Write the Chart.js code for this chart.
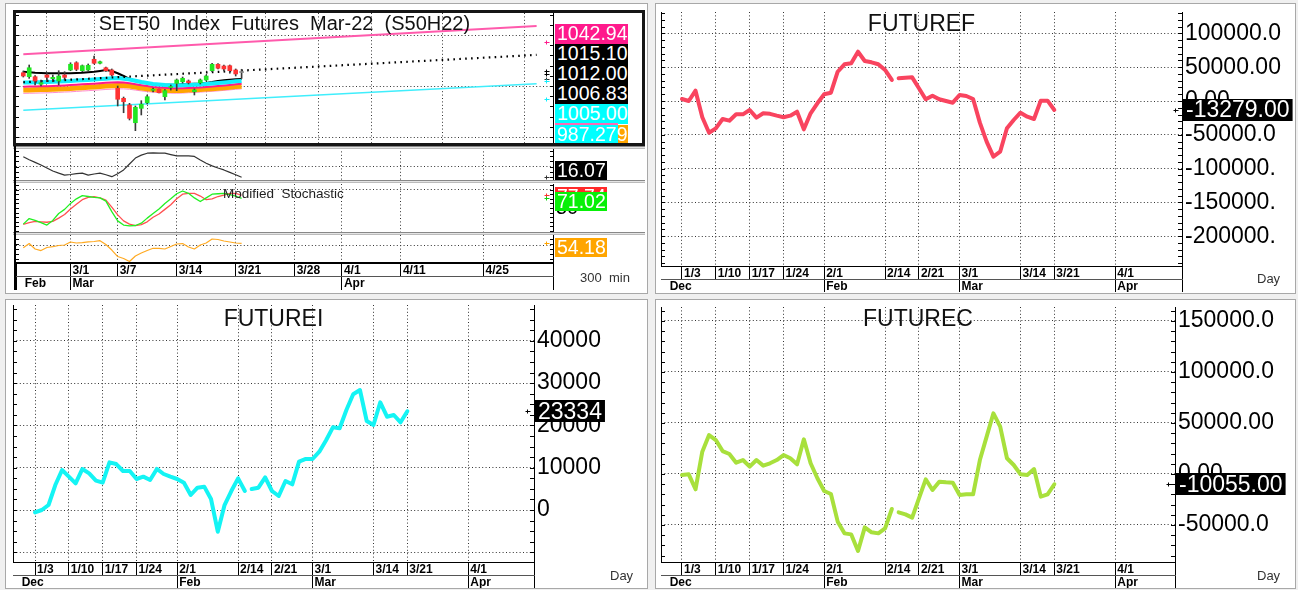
<!DOCTYPE html>
<html>
<head>
<meta charset="utf-8">
<title>SET50 Index Futures Mar-22</title>
<script src="https://cdn.jsdelivr.net/npm/chart.js@4.4.1/dist/chart.umd.min.js"></script>
<style>
html,body{margin:0;padding:0;background:#f0f0f0;}
#root{position:relative;width:1298px;height:590px;overflow:hidden;background:#f0f0f0;font-family:'Liberation Sans',Arial,sans-serif;}
.panel{position:absolute;background:#fff;border:1px solid #a8a8a8;box-sizing:border-box;}
canvas{position:absolute;display:block;}
.t{position:absolute;white-space:pre;line-height:1;color:#111;}
.lab{position:absolute;left:555px;color:#fff;font-size:19.5px;line-height:19px;padding-left:2px;box-sizing:border-box;white-space:pre;overflow:hidden;}
.sep{position:absolute;left:13px;width:632px;height:3px;box-sizing:border-box;border-top:1px solid #888;border-bottom:1px solid #bbb;background:#e4e4e4;}
</style>
</head>
<body>
<div id="root">
  <div class="panel" style="left:5px;top:3px;width:643px;height:291px"></div>
  <div class="panel" style="left:655px;top:3px;width:641px;height:291px"></div>
  <div class="panel" style="left:5px;top:299px;width:643px;height:290px"></div>
  <div class="panel" style="left:655px;top:299px;width:641px;height:290px"></div>

  <div style="position:absolute;left:13px;top:10px;width:626px;height:130px;border:3px solid #151515;"></div>
  <canvas id="cMain" width="626" height="130" style="left:16px;top:13px"></canvas>
  <canvas id="cS1" width="626" height="32" style="left:16px;top:148px"></canvas>
  <canvas id="cS2" width="626" height="48" style="left:16px;top:184px"></canvas>
  <canvas id="cS3" width="626" height="55" style="left:16px;top:235px"></canvas>
  <div class="sep" style="top:146px"></div>
  <div class="sep" style="top:180px"></div>
  <div class="sep" style="top:232px"></div>
  <div style="position:absolute;left:14px;top:146px;width:2px;height:144px;background:#000"></div>

  <canvas id="cF" width="639" height="288" style="left:656px;top:4px"></canvas>
  <canvas id="cI" width="641" height="288" style="left:6px;top:300px"></canvas>
  <canvas id="cC" width="639" height="288" style="left:656px;top:300px"></canvas>

  <div class="t" style="left:16px;top:13px;width:537px;text-align:center;font-size:20px">SET50  Index  Futures  Mar-22  (S50H22)</div>
  <div class="t" style="left:661px;top:12px;width:521px;text-align:center;font-size:23px">FUTUREF</div>
  <div class="t" style="left:13px;top:307px;width:521px;text-align:center;font-size:23px">FUTUREI</div>
  <div class="t" style="left:661px;top:307px;width:514px;text-align:center;font-size:23px">FUTUREC</div>
  <div class="t" style="left:223px;top:187px;font-size:13.5px;color:#222">Modified  Stochastic</div>
  <div class="t" style="left:580px;top:271px;font-size:13px;color:#333">300  min</div>
  <div class="t" style="left:1257px;top:272px;font-size:13px;color:#333">Day</div>
  <div class="t" style="left:610px;top:569px;font-size:13px;color:#333">Day</div>
  <div class="t" style="left:1257px;top:569px;font-size:13px;color:#333">Day</div>
  <div id="labels"></div>
</div>
<script>
const FF = "'Liberation Sans', Arial, sans-serif";
Chart.defaults.font.family = FF;
Chart.defaults.color = '#000';

/* ================= FUTURE panels (daily) ================= */
const dayTickIdx    = [0, 5, 10, 15, 21, 30, 35, 41, 50, 55, 64];
const dayTickLabels = ['1/3','1/10','1/17','1/24','2/1','2/14','2/21','3/1','3/14','3/21','4/1'];
const monthTickIdx  = [21, 41, 64];
const monthLabels   = ['Feb','Mar','Apr'];
const firstMonthLabel = 'Dec';
const gapAfterIndex = 31;

const futureF = [3000,0,15200,-24100,-46900,-40400,-26600,-29100,-19700,-19700,
  -13300,-24600,-18200,-19000,-21700,-24100,-21700,-15800,-41900,-18200,
  -3400,9900,12300,43300,54300,55800,72900,59200,57200,54300,
  45900,31100,33500,34500,35000,18800,2500,7900,2500,0,
  -2500,8900,7400,3000,-32000,-60000,-82300,-75000,-40400,-28100,
  -17300,-23200,-26600,500,500,-13279];
const futureI = [-550,0,1180,5900,9450,7880,6300,9700,8670,6930,
  6460,11270,10870,9220,9220,7330,7880,7090,9700,8510,
  7880,7330,6460,3550,5280,5520,2600,-5130,1180,4490,
  7490,4490,4960,5280,7720,4490,3310,6860,6070,11430,
  12060,12060,13790,16500,19540,19310,23640,27350,28370,21040,
  20090,25460,22060,22460,20730,23334];
const futureC = [-980,-300,-15000,21900,38200,33300,22500,19600,11100,13700,
  7200,13700,8200,10500,13700,18600,15400,9500,34000,10500,
  -4200,-16700,-19600,-46700,-58200,-59200,-75500,-52300,-57200,-58200,
  -53300,-34300,-37600,-39600,-42800,-23900,-5200,-15700,-7500,-8200,
  -8500,-20600,-19900,-19900,13700,36600,59500,46400,15400,8800,
  -300,-1000,4900,-22200,-19900,-10055];

const yTicksF = [-200000,-150000,-100000,-50000,0,50000,100000];
const yTicksI = [-10000,0,10000,20000,30000,40000];
const yTicksC = [-50000,0,50000,100000,150000];

/* ================= SET50 panel (300 min bars) ================= */
const barDateTickIdx = [8, 16, 26, 36, 46, 54, 64, 78];
const barDateLabels  = ['3/1','3/7','3/14','3/21','3/28','4/1','4/11','4/25'];
const barMonthTickIdx = [8, 54];
const barMonthLabels  = ['Mar','Apr'];
const barFirstMonth   = 'Feb';

const candleOpen  = [1013.0,1009.1,1009.1,1001.7,1010.8,1007.2,1004.9,1010.8,1015.7,1022.8,1015.0,1015.7,1026.2,1022.3,1017.9,1015.7,997.7,987.9,981.4,964.0,978.1,983.6,995.8,996.8,989.5,998.5,1002.6,1004.2,1004.9,994.4,1003.2,1005.9,1015.0,1021.3,1019.6,1019.9,1015.7,1013.2];
const candleHigh  = [1014.7,1020.6,1010.3,1005.9,1012.5,1010.8,1015.0,1014.0,1022.8,1023.8,1020.6,1021.6,1029.4,1024.5,1018.6,1016.7,1000.0,989.2,983.0,980.4,985.6,991.2,998.0,997.1,996.6,1001.0,1006.9,1008.8,1005.9,997.1,1006.9,1010.8,1022.3,1022.1,1020.6,1020.6,1016.7,1016.4];
const candleLow   = [1008.8,1007.5,1001.0,1000.0,1004.2,1004.2,1001.0,1005.9,1015.0,1015.0,1014.0,1014.7,1021.6,1021.6,1014.2,1009.8,980.4,973.8,966.7,956.2,971.6,982.4,994.1,993.1,986.3,996.0,995.4,1002.9,1002.0,991.2,1002.0,1004.9,1014.0,1016.7,1014.7,1012.5,1009.8,1007.5];
const candleClose = [1009.8,1017.9,1004.9,1003.2,1008.5,1008.5,1009.8,1008.5,1021.3,1016.4,1019.9,1020.3,1022.3,1023.8,1015.0,1010.8,987.0,984.6,968.3,979.1,982.1,989.5,996.1,993.4,995.4,999.2,1005.9,1007.5,1003.2,996.1,1005.9,1009.8,1021.3,1017.4,1016.7,1015.0,1011.8,1013.2];

const maBlack   = [1014.0,1013.5,1013.0,1012.8,1012.5,1012.5,1012.5,1012.5,1012.5,1012.7,1013.0,1013.5,1014.0,1014.8,1015.7,1014.7,1012.5,1009.8,1006.9,1004.9,1003.5,1002.6,1002.0,1001.6,1001.3,1001.2,1001.3,1001.6,1001.9,1002.2,1002.5,1003.0,1003.9,1005.0,1005.6,1006.2,1006.6,1006.83];
const maCyan    = [1003.4,1003.5,1003.6,1003.8,1003.9,1004.1,1004.4,1004.7,1004.9,1005.3,1005.7,1006.0,1006.4,1006.8,1007.2,1007.5,1007.8,1007.2,1006.4,1005.1,1003.9,1002.9,1002.0,1001.5,1001.0,1000.7,1000.5,1000.7,1001.0,1001.2,1001.5,1002.0,1002.5,1002.9,1003.4,1004.0,1004.6,1005.0];
const maMagenta = [999.3,999.4,999.5,999.7,999.8,1000.0,1000.3,1000.6,1000.9,1001.2,1001.6,1001.9,1002.3,1002.7,1003.1,1003.4,1003.7,1003.4,1002.8,1001.8,1000.8,999.9,999.1,998.6,998.2,997.9,997.7,997.9,998.1,998.3,998.6,999.0,999.5,999.9,1000.4,1001.0,1001.7,1002.1];
const maOrange  = [996.1,996.2,996.3,996.5,996.6,996.8,997.1,997.4,997.6,998.0,998.4,998.7,999.1,999.5,999.9,1000.2,1000.5,1000.4,999.9,999.0,998.1,997.3,996.6,996.2,995.8,995.6,995.5,995.7,996.0,996.3,996.6,997.0,997.4,997.8,998.3,998.8,999.4,999.8];
const maPink    = [992.8,992.9,993.0,993.2,993.3,993.5,993.8,994.1,994.3,994.7,995.1,995.4,995.8,996.2,996.6,996.9,997.2,997.2,996.8,996.0,995.2,994.5,993.9,993.5,993.2,993.0,992.9,993.1,993.4,993.7,994.0,994.4,994.8,995.2,995.7,996.2,996.8,997.2];

const channelBars  = [0, 87];
const channelUpper = [1031.1, 1058.8];
const channelMid   = [1003.7, 1030.5];
const channelLower = [976.3, 1002.2];

const sub1Line  = [23.7,22.6,21.6,20.6,19.5,18.4,17.6,16.9,17.1,17.4,17.6,16.9,17.3,17.6,17.0,16.3,17.4,18.8,21.0,23.2,24.3,25.0,25.1,25.0,25.0,24.5,24.0,24.0,24.0,23.8,22.5,21.3,20.3,19.5,18.8,17.9,17.0,16.07];
const stochFast = [15,27,23,18,13,23,38,47,60,70,77,75,73,72,65,42,22,13,11,12,17,28,38,48,60,70,81,87,82,72,64,72,80,81,82,79,76,71.02];
const stochSlow = [14.6,18,21,20,19,21,28,36,48,58,68,73,74.6,72,67,52,35,22,15,11.5,14,20,30,37,47,57,70,80,82,82,76,68,70,75,78,82,82,77.74];
const sub3Line  = [47.4,53.8,45.4,43,47.7,48.9,50.8,51.5,56.2,54.6,55.1,56.2,56.9,58.2,52.3,43.8,33.8,30.8,26.2,34.6,39.2,43.1,46.5,46.2,45.4,49.2,53.1,53.8,48.5,45.4,51.5,54.6,60.8,60,57.7,56.2,54.6,54.18];

const mainLabelValues = ['1042.94','1015.10','1012.00','1006.83','1005.00','987.279'];

/* ================= helpers ================= */
const GRID = '#333';
const DOT = [1, 2.4];
const CLEAR = 'rgba(0,0,0,0)';
const noPad = s => { s.paddingTop = 0; s.paddingBottom = 0; s.paddingLeft = 0; s.paddingRight = 0; };

function makeDecor(o) {
  return {
    id: 'decor',
    afterDraw(chart) {
      const ctx = chart.ctx, a = chart.chartArea, y = chart.scales.y;
      ctx.save();
      if (o.leftBorder) {
        ctx.strokeStyle = '#000'; ctx.lineWidth = o.leftBorder;
        ctx.beginPath(); ctx.moveTo(a.left + 0.5, a.top); ctx.lineTo(a.left + 0.5, a.bottom); ctx.stroke();
      }
      if (o.minorStep) {
        const L = o.minorLen || 3;
        ctx.strokeStyle = '#000'; ctx.lineWidth = 1; ctx.beginPath();
        for (let v = Math.ceil(y.min / o.minorStep) * o.minorStep; v <= y.max; v += o.minorStep) {
          const p = Math.round(y.getPixelForValue(v)) + 0.5;
          ctx.moveTo(a.left, p); ctx.lineTo(a.left + L, p);
          ctx.moveTo(a.right - L, p); ctx.lineTo(a.right, p);
        }
        ctx.stroke();
      }
      (o.markers || []).forEach(m => {
        const p = Math.round(y.getPixelForValue(m.value)) + 0.5, x = Math.round(a.right - 7) + 0.5;
        ctx.strokeStyle = m.color; ctx.lineWidth = 1; ctx.beginPath();
        ctx.moveTo(x - 2, p); ctx.lineTo(x + 3, p); ctx.moveTo(x, p - 2); ctx.lineTo(x, p + 2); ctx.stroke();
      });
      if (o.box) {
        const p = y.getPixelForValue(o.box.value);
        ctx.font = o.box.font; ctx.textBaseline = 'middle'; ctx.textAlign = 'left';
        const w = ctx.measureText(o.box.text).width + 6;
        ctx.fillStyle = o.box.bg; ctx.fillRect(a.right + 1, Math.round(p - 11), w, 22);
        ctx.fillStyle = '#fff'; ctx.fillText(o.box.text, a.right + 4, p + 1);
      }
      ctx.restore();
    }
  };
}

function dateAxis(min, max, idx, labels, h, bw, leftEdge) {
  const vals = (leftEdge ? [min] : []).concat(idx, [max]);
  const labs = (leftEdge ? [''] : []).concat(labels, ['']);
  const onArea = (leftEdge ? [false] : []).concat(idx.map(() => true), [false]);
  return {
    type: 'linear', position: 'bottom', weight: 1, min, max, offset: false,
    afterBuildTicks: s => { s.ticks = vals.map(v => ({ value: v })); },
    afterFit: s => { s.height = h; noPad(s); },
    ticks: { autoSkip: false, maxRotation: 0, minRotation: 0, align: 'start', labelOffset: 2,
      padding: -h + 0.3, color: '#000', font: { family: FF, size: 12, weight: 'bold' },
      callback: (v, i) => labs[i] },
    grid: { display: true, drawOnChartArea: true, drawTicks: true, tickLength: h,
      color: c => onArea[c.index] ? GRID : CLEAR, lineWidth: 1,
      tickColor: '#000', tickWidth: 1, tickBorderDash: [] },
    border: { display: true, color: '#000', width: bw, dash: DOT }
  };
}

function monthAxis(min, max, idx, labels, first, h, leftLine) {
  const vals = [min].concat(idx, [max]);
  const labs = ['  ' + first].concat(labels, ['']);
  return {
    type: 'linear', position: 'bottom', weight: 2, min, max, offset: false,
    afterBuildTicks: s => { s.ticks = vals.map(v => ({ value: v })); },
    afterFit: s => { s.height = h; noPad(s); },
    ticks: { autoSkip: false, maxRotation: 0, minRotation: 0, align: 'start', labelOffset: 2,
      padding: -h, color: '#000', font: { family: FF, size: 12, weight: 'bold' },
      callback: (v, i) => labs[i] },
    grid: { display: true, drawOnChartArea: false, drawTicks: true, tickLength: h,
      tickColor: c => (c.index === 0 && !leftLine) ? CLEAR : '#000', tickWidth: 1, tickBorderDash: [] },
    border: { display: true, color: '#555', width: 1 }
  };
}

function gridOnlyX(min, max, idx) {
  return {
    type: 'linear', position: 'bottom', min, max, offset: false,
    afterBuildTicks: s => { s.ticks = idx.map(v => ({ value: v })); },
    afterFit: s => { s.height = 0; noPad(s); },
    ticks: { display: false },
    grid: { drawTicks: false, color: GRID, lineWidth: 1 },
    border: { display: false, dash: DOT }
  };
}

function rightY(min, max, ticks, width, tickOpts, gridColor) {
  return {
    type: 'linear', position: 'right', min, max,
    afterBuildTicks: s => { s.ticks = ticks.map(v => ({ value: v })); },
    afterFit: s => { s.width = width; noPad(s); },
    ticks: Object.assign({ autoSkip: false, padding: 3, color: '#000' }, tickOpts),
    grid: { drawTicks: false, color: gridColor || GRID, lineWidth: 1 },
    border: { display: true, color: '#000', width: 1, dash: DOT }
  };
}

const baseOpts = (padL, padT) => ({
  responsive: false, animation: false, events: [], devicePixelRatio: 1,
  layout: { padding: { left: padL, top: padT, right: 0, bottom: 0 } },
  plugins: { legend: { display: false }, tooltip: { enabled: false } }
});

const fmt8 = v => v.toFixed(2).slice(0, 8);
const fmtInt = v => v < 0 ? '' : String(v);

function futureChart(id, o) {
  const last = o.values[o.values.length - 1];
  const opts = baseOpts(o.padL, o.padT);
  opts.scales = {
    x: dateAxis(o.xMin, o.xMax, dayTickIdx, dayTickLabels, 13, 1, false),
    x2: monthAxis(o.xMin, o.xMax, monthTickIdx, monthLabels, firstMonthLabel, 13, false),
    y: rightY(o.yMin, o.yMax, o.yTicks, o.axisW, { font: { family: FF, size: 23 }, callback: o.fmt })
  };
  return new Chart(document.getElementById(id), {
    type: 'line',
    data: { datasets: [{
      data: o.values.map((v, i) => ({ x: i, y: v })),
      borderColor: o.color, borderWidth: 4, pointRadius: 0, tension: 0,
      borderJoinStyle: 'round', borderCapStyle: 'round',
      segment: { borderColor: c => c.p0DataIndex === gapAfterIndex ? CLEAR : undefined }
    }]},
    options: opts,
    plugins: [makeDecor({ leftBorder: 1, minorStep: o.minorStep, minorLen: 4,
      markers: [{ value: last, color: '#000' }],
      box: { value: last, text: o.boxFmt(last), bg: '#000', font: '23px ' + FF } })]
  });
}

futureChart('cF', { values: futureF, color: '#f9445f', xMin: -3.1, xMax: 73.86, padL: 5, padT: 8,
  yMin: -244083, yMax: 131657, yTicks: yTicksF, axisW: 113, fmt: fmt8, minorStep: 10000,
  boxFmt: v => v.toFixed(2) });
futureChart('cI', { values: futureI, color: '#14f4f4', xMin: -3.25, xMax: 73.71, padL: 7, padT: 5,
  yMin: -12293, yMax: 48463, yTicks: yTicksI, axisW: 113, fmt: fmtInt, minorStep: 2500,
  boxFmt: v => String(v) });
futureChart('cC', { values: futureC, color: '#a8e03c', xMin: -3.1, xMax: 72.82, padL: 5, padT: 7,
  yMin: -86275, yMax: 163725, yTicks: yTicksC, axisW: 120, fmt: fmt8, minorStep: 10000,
  boxFmt: v => v.toFixed(2) });

/* ================= SET50 charts ================= */
const BX_MIN = -1.237, BX_MAX = 89.78;
const line = (data, color, width, order, extra) => Object.assign({
  data, borderColor: color, borderWidth: width, pointRadius: 0, tension: 0,
  borderJoinStyle: 'round', order }, extra || {});
const series = arr => arr.map((v, i) => ({ x: i, y: v }));
const pairs = (xs, ys) => xs.map((x, i) => ({ x, y: ys[i] }));

const bodyColors = candleOpen.map((o, i) => candleClose[i] > o ? '#22e622' : (candleClose[i] < o ? '#ff3333' : '#8a8a8a'));

{
  const opts = baseOpts(0, 0);
  opts.scales = {
    x: gridOnlyX(BX_MIN, BX_MAX, barDateTickIdx),
    y: rightY(944.12, 1071.57, [950, 1000, 1050], 89, { display: false })
  };
  new Chart(document.getElementById('cMain'), {
    type: 'line',
    data: { datasets: [
      { type: 'bar', data: candleOpen.map((o, i) => ({ x: i, y: [o, candleClose[i]] })),
        backgroundColor: bodyColors, barThickness: 4, grouped: false, minBarLength: 1, borderWidth: 0, order: 0 },
      { type: 'bar', data: candleLow.map((l, i) => ({ x: i, y: [l, candleHigh[i]] })),
        backgroundColor: '#3a3a3a', barThickness: 1, grouped: false, borderWidth: 0, order: 1 },
      line(pairs(channelBars, channelMid), '#000', 2.2, 2, { borderDash: [1.6, 4.3] }),
      line(series(maCyan), '#12eefc', 4, 3),
      line(series(maBlack), '#000', 2, 4),
      line(series(maMagenta), '#ff1a8c', 2, 5),
      line(series(maOrange), '#ffa500', 5, 6),
      line(series(maPink), '#ff8ccc', 1, 7),
      line(pairs(channelBars, channelUpper), '#ff5aac', 2, 8),
      line(pairs(channelBars, channelLower), '#40eefc', 1.5, 8)
    ]},
    options: opts,
    plugins: [makeDecor({ minorStep: 10, minorLen: 3, markers: [
      { value: 1042.94, color: '#ff1a8c' }, { value: 1015.10, color: '#000' },
      { value: 1012.00, color: '#000' }, { value: 1006.83, color: '#333' },
      { value: 1005.00, color: '#12eefc' }, { value: 987.279, color: '#12eefc' }] })]
  });
}
{
  const opts = baseOpts(0, 0);
  opts.scales = {
    x: gridOnlyX(BX_MIN, BX_MAX, barDateTickIdx),
    y: rightY(15.07, 26.93, [20], 89, { display: false })
  };
  new Chart(document.getElementById('cS1'), {
    type: 'line',
    data: { datasets: [line(series(sub1Line), '#333', 1.2, 0)] },
    options: opts,
    plugins: [makeDecor({ minorStep: 2, minorLen: 3, markers: [{ value: sub1Line[sub1Line.length - 1], color: '#333' }] })]
  });
}
{
  const opts = baseOpts(0, 0);
  opts.scales = {
    x: gridOnlyX(BX_MIN, BX_MAX, barDateTickIdx),
    y: rightY(-2.17, 102.2, [50, 90], 89, { font: { family: FF, size: 20 }, callback: v => v === 50 ? '50' : '' },
      c => c.tick && c.tick.value === 90 ? GRID : CLEAR)
  };
  new Chart(document.getElementById('cS2'), {
    type: 'line',
    data: { datasets: [line(series(stochFast), '#22f022', 1.3, 0), line(series(stochSlow), '#ff5050', 1.3, 1)] },
    options: opts,
    plugins: [makeDecor({ minorStep: 10, minorLen: 3, markers: [
      { value: stochSlow[stochSlow.length - 1], color: '#ff3030' },
      { value: stochFast[stochFast.length - 1], color: '#10d010' }] })]
  });
}
{
  const opts = baseOpts(0, 0);
  opts.scales = {
    x: dateAxis(BX_MIN, BX_MAX, barDateTickIdx, barDateLabels, 13, 2, true),
    x2: monthAxis(BX_MIN, BX_MAX, barMonthTickIdx, barMonthLabels, barFirstMonth, 14, true),
    y: rightY(23.85, 66.92, [50], 89, { display: false })
  };
  new Chart(document.getElementById('cS3'), {
    type: 'line',
    data: { datasets: [line(series(sub3Line), '#ffaa22', 1.2, 0)] },
    options: opts,
    plugins: [makeDecor({ minorStep: 7.5, minorLen: 3, markers: [{ value: sub3Line[sub3Line.length - 1], color: '#ffa500' }] })]
  });
}

/* ================= right-hand value labels of SET50 panel ================= */
(function () {
  const host = document.getElementById('labels');
  const add = (text, top, width, height, bg, color) => {
    const d = document.createElement('div');
    d.className = 'lab';
    d.style.top = top + 'px'; d.style.width = width + 'px'; d.style.height = height + 'px';
    if (bg) d.style.background = bg;
    if (color) d.style.color = color;
    d.textContent = text;
    host.appendChild(d);
  };
  const mainBg = ['#ff1a8c', '#000', '#000', '#000', '#00ffff'];
  mainLabelValues.slice(0, 5).forEach((t, i) => add(t, 23.5 + 20 * i, 73, 20, mainBg[i]));
  add('', 123.3, 63, 20, '#ff69b4');
  add('', 124.8, 73.3, 18.2, '#ffa500');
  add('', 124.8, 62.7, 18.2, '#00ffff');
  add(mainLabelValues[5], 124.6, 74, 18.4, null);

  add(sub1Line[sub1Line.length - 1].toFixed(2), 161, 51.7, 19, '#000');
  add(stochSlow[stochSlow.length - 1].toFixed(2), 186.7, 51.7, 19, '#ff2a2a');
  add(stochFast[stochFast.length - 1].toFixed(2), 191.7, 51.7, 19, '#08f008');
  add(sub3Line[sub3Line.length - 1].toFixed(2), 238.3, 51.7, 18.5, '#ffa500');
})();
</script>
</body>
</html>
